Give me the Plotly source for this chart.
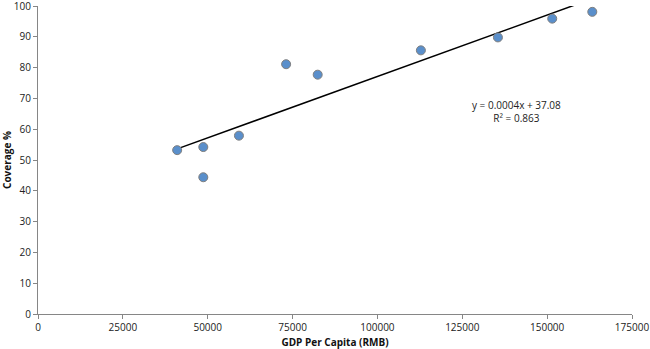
import numpy as np
import plotly.graph_objects as go

gdp = [41000, 48700, 48700, 59200, 73100, 82400, 112800, 135500, 151500, 163300]
coverage = [53.2, 54.2, 44.4, 57.9, 81.1, 77.7, 85.6, 89.8, 95.9, 98.1]
x_ticks = [0, 25000, 50000, 75000, 100000, 125000, 150000, 175000]
y_ticks = [0, 10, 20, 30, 40, 50, 60, 70, 80, 90, 100]
eq_text = "y = 0.0004x + 37.08<br>R² = 0.863"

slope, intercept = np.polyfit(gdp, coverage, 1)
tx = [min(gdp), max(gdp)]
ty = [slope * v + intercept for v in tx]

font = "Open Sans, Liberation Sans, sans-serif"
fig = go.Figure()
fig.add_trace(go.Scatter(x=tx, y=ty, mode="lines",
                         line=dict(color="black", width=1.5),
                         hoverinfo="skip", showlegend=False))
fig.add_trace(go.Scatter(x=gdp, y=coverage, mode="markers",
                         marker=dict(size=9, color="#5A8FCB",
                                     line=dict(color="#7F7F7F", width=1)),
                         cliponaxis=False, showlegend=False))
fig.add_annotation(x=141000, y=65.8, xref="x", yref="y", text=eq_text,
                   showarrow=False, font=dict(family=font, size=10, color="#222"),
                   align="center")
ax = dict(showline=True, linecolor="#868686", linewidth=1, ticks="outside",
          ticklen=4, tickcolor="#868686", showgrid=False, zeroline=False,
          ticklabeloverflow="allow", automargin=False,
          tickfont=dict(family=font, size=10, color="#222"))
fig.update_layout(
    width=650, height=349,
    margin=dict(l=38, r=18, t=6, b=35),
    plot_bgcolor="white", paper_bgcolor="white",
    xaxis=dict(range=[0, 175000], tickvals=x_ticks, tickformat="d",
               title=dict(text="<b>GDP Per Capita (RMB)</b>",
                          font=dict(family=font, size=10, color="#111")), **ax),
    yaxis=dict(range=[0, 100], tickvals=y_ticks, tickformat="d",
               title=dict(text="<b>Coverage %</b>",
                          font=dict(family=font, size=10, color="#111")), **ax),
)
fig.write_html("out.html", config={"displayModeBar": False},
               post_script="document.body.style.margin='0';document.body.style.overflow='hidden';")
